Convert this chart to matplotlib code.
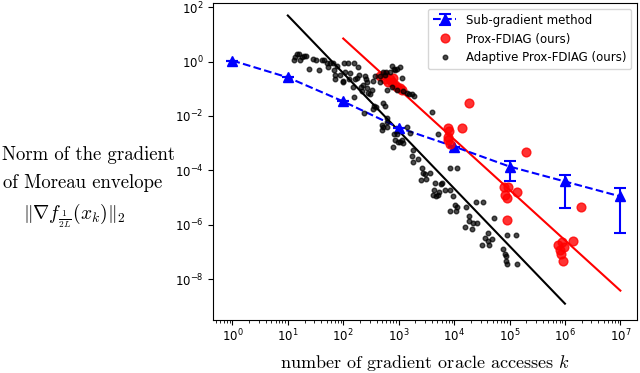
"""
Gradient-norm of the Moreau envelope vs. number of gradient oracle accesses.
"""

import numpy as np
import matplotlib
matplotlib.use("Agg")
import matplotlib.pyplot as plt
from matplotlib.ticker import NullLocator

plt.rcParams["mathtext.fontset"] = "cm"

# ---- sub-gradient method (mean and spread over runs) -----------------
sub_k = [1e0, 1e1, 1e2, 1e3, 1e4, 1e5, 1e6, 1e7]
sub_val = [1.08, 0.26, 0.034, 3.7e-3, 7.5e-4, 1.38e-4, 3.9e-5, 1.1e-5]
sub_lo = [1.08, 0.26, 0.034, 3.7e-3, 7.5e-4, 3.9e-5, 4.3e-6, 5.1e-7]
sub_hi = [1.08, 0.26, 0.034, 3.7e-3, 7.5e-4, 2.3e-4, 6.9e-5, 2.3e-5]

# ---- Prox-FDIAG points (log10 k, log10 value) -------------------------
prox_logk = [2.66, 2.75, 2.75, 2.81, 2.84, 2.90, 2.88, 2.97, 3.02, 3.06, 2.93,
             3.89, 4.14, 4.27, 3.89, 3.89, 3.93, 3.91, 5.30,
             4.90, 4.97, 4.92, 4.96, 5.14, 4.96, 6.29,
             5.95, 5.88, 5.91, 5.93, 5.97, 6.15, 5.98]
prox_logv = [-0.55, -0.48, -0.66, -0.74, -0.66, -0.59, -0.77, -0.92, -0.96, -1.03, -0.85,
             -2.43, -2.46, -1.54, -2.76, -2.87, -3.05, -2.57, -3.31,
             -4.63, -4.60, -4.89, -5.00, -4.78, -5.81, -5.33,
             -6.62, -6.73, -6.91, -7.06, -7.32, -6.58, -6.80]

# ---- Adaptive Prox-FDIAG points (log10 k, log10 value) ----------------
ada_logk = [1.13, 1.16, 1.20, 1.25, 1.29, 1.33, 1.22, 1.11, 1.38, 1.45,
            1.51, 1.56, 1.62, 1.65, 1.71, 1.72, 1.76, 1.81, 1.83, 1.85,
            1.85, 1.89, 1.94, 1.99, 1.99, 2.03, 2.01, 2.08, 2.12, 2.10,
            2.18, 2.19, 2.21, 2.25, 2.27, 2.28, 2.32, 2.34, 2.36, 2.39,
            2.41, 2.43, 2.43, 2.45, 2.48, 2.54, 2.52, 2.57, 2.55, 2.59,
            2.37, 2.19, 2.66, 2.66, 2.72, 2.77, 2.79, 2.72, 2.75, 2.79,
            2.70, 2.70, 2.79, 2.88, 2.93, 2.97, 3.02, 3.06, 3.08, 3.15,
            3.19, 3.24, 3.28, 2.97, 2.92, 2.93, 2.90, 2.99, 3.06, 3.08,
            3.15, 3.20, 3.24, 3.26, 3.35, 2.88, 2.84, 2.75, 2.92, 3.60,
            3.71, 2.97, 3.40, 3.49, 3.42, 3.44, 3.47, 3.56, 3.66, 3.78,
            3.64, 3.67, 3.73, 3.84, 3.93, 3.98, 3.93, 4.05, 4.02, 4.05,
            3.93, 4.03, 4.21, 4.39, 4.52, 4.27, 4.27, 4.34, 4.41, 4.20,
            4.32, 4.72, 4.61, 4.56, 4.61, 4.50, 4.68, 4.63, 4.96, 5.12,
            4.88, 4.94, 4.94, 4.96, 5.14, 4.92, 2.79, 3.26, 2.72, 2.54,
            3.76, 3.71, 3.62, 3.02]
ada_logv = [0.18, 0.26, 0.26, 0.18, 0.22, 0.22, 0.07, 0.04, -0.26, 0.11,
            0.07, -0.33, 0.04, 0.04, -0.04, -0.22, -0.04, -0.07, -0.33, -0.48,
            -0.63, -0.18, -0.51, -0.70, -0.77, -0.37, -0.07, -0.04, -0.44, -0.63,
            -0.92, -0.04, -0.66, -0.59, -0.22, -0.51, -0.92, -1.10, -0.85, -0.55,
            -0.66, -0.77, -0.96, -1.14, -1.21, -0.70, -1.03, -0.55, -1.65, -1.69,
            -1.88, -1.29, -0.77, -0.55, -0.37, -0.37, -1.03, -1.54, -1.65, -2.06,
            -2.32, -2.50, -2.39, -0.92, -0.33, -0.29, -0.22, -0.59, -1.07, -1.14,
            -1.18, -1.21, -1.25, -1.03, -2.68, -2.87, -3.13, -2.94, -2.87, -2.98,
            -2.39, -2.61, -3.49, -3.71, -3.60, -0.18, -0.37, -0.48, -0.26, -1.84,
            -2.68, -2.68, -4.34, -4.30, -3.90, -4.08, -4.15, -4.08, -4.45, -4.45,
            -4.74, -4.93, -4.78, -4.74, -4.71, -4.93, -3.93, -3.93, -5.26, -5.33,
            -5.51, -5.51, -5.33, -5.15, -5.15, -5.66, -5.88, -5.92, -5.92, -6.10,
            -6.14, -5.74, -6.29, -6.47, -6.58, -6.73, -6.51, -6.73, -6.36, -6.36,
            -6.88, -7.13, -7.32, -7.46, -7.46, -7.06, -2.21, -3.24, -2.39, -1.76,
            -4.49, -4.89, -4.89, -2.94]

# ---- fitted rates (end points of the log-log fit lines) --------------
prox_fit_k = [1e2, 1e7]
prox_fit_v = [7.0, 3.8e-9]
ada_fit_k = [1e1, 1e6]
ada_fit_v = [49.0, 1.26e-9]


fig = plt.figure(figsize=(6.4, 3.73), dpi=100)
ax = fig.add_axes([213 / 640, 1 - 320 / 373, 424 / 640, 317 / 373])

ax.plot(ada_fit_k, ada_fit_v, color="black", lw=1.5)
ax.plot(prox_fit_k, prox_fit_v, color="red", lw=1.5)

sub_val = np.array(sub_val)
yerr = [sub_val - np.array(sub_lo), np.array(sub_hi) - sub_val]
h_sub = ax.errorbar(sub_k, sub_val, yerr=yerr, color="blue", ls="--", lw=1.5,
                    marker="^", ms=7, capsize=4, elinewidth=1.5, capthick=1.5,
                    label="Sub-gradient method", zorder=3)

h_prox, = ax.plot(10 ** np.array(prox_logk), 10 ** np.array(prox_logv), "o",
                  color="red", ms=6.3, alpha=0.8, mew=1.0, ls="none",
                  label="Prox-FDIAG (ours)", zorder=4)
h_ada, = ax.plot(10 ** np.array(ada_logk), 10 ** np.array(ada_logv), "o",
                 color="black", ms=3.3, alpha=0.7, mew=1.0, ls="none",
                 label="Adaptive Prox-FDIAG (ours)", zorder=4)

ax.set_xscale("log")
ax.set_yscale("log")
ax.set_xlim(10 ** -0.35, 10 ** 7.3)
ax.set_ylim(10 ** -9.5, 10 ** 2.15)
ax.yaxis.set_minor_locator(NullLocator())
ax.tick_params(labelsize=8.5)
ax.tick_params(axis="x", pad=2)

ax.set_xlabel("number of gradient oracle accesses $k$", fontname="cmr10",
              fontsize=13, labelpad=6)
fig.text(88 / 640, 1 - 155 / 373, "Norm of the gradient", fontname="cmr10",
         fontsize=13.5, ha="center", va="center")
fig.text(83 / 640, 1 - 183 / 373, "of Moreau envelope", fontname="cmr10",
         fontsize=13.5, ha="center", va="center")
fig.text(74 / 640, 1 - 216 / 373, r"$\|\nabla f_{\frac{1}{2L}}(x_k)\|_2$",
         fontsize=14, ha="center", va="center")

ax.legend([h_sub, h_prox, h_ada],
          ["Sub-gradient method", "Prox-FDIAG (ours)", "Adaptive Prox-FDIAG (ours)"],
          loc="upper right", fontsize=8.5, borderaxespad=0.5)

fig.savefig("out.png", dpi=100)
